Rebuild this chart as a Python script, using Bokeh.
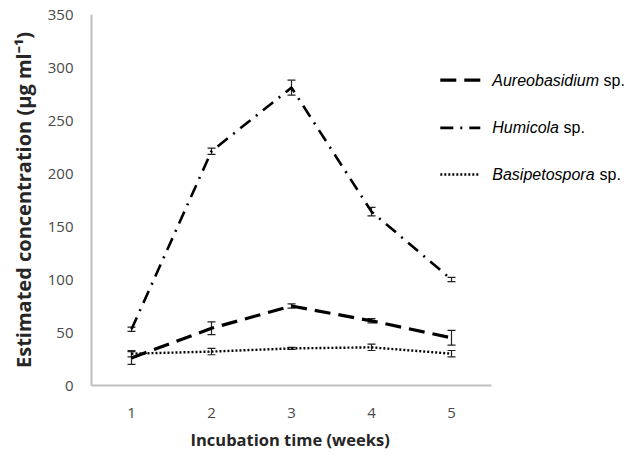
from bokeh.plotting import figure
from bokeh.models import ColumnDataSource, Whisker, TeeHead, Range1d, FixedTicker, Label, Title
from bokeh.embed import file_html
from bokeh.resources import INLINE

weeks = [1, 2, 3, 4, 5]
aureo = [26, 54, 75, 61, 45]
aureo_err = [6, 6, 2, 2, 7]
humicola = [53, 221, 281, 164, 100]
humicola_err = [2, 3, 7, 4, 2]
basip = [30, 32, 35, 36, 30]
basip_err = [3, 3, 1, 3, 3]
y_ticks = [0, 50, 100, 150, 200, 250, 300, 350]
series_names = ["Aureobasidium", "Humicola", "Basipetospora"]

p = figure(width=636, height=463, output_backend="svg", toolbar_location=None,
           x_range=Range1d(0.5, 7.3125), y_range=Range1d(0, 350),
           min_border_left=91, min_border_right=0, min_border_top=14, min_border_bottom=78)
p.outline_line_color = None
p.grid.visible = False
p.background_fill_color = "white"

styles = [
    dict(line_dash="16 8", line_width=3.2),
    dict(line_dash="13 7 2 7", line_width=2.6),
    dict(line_dash="2 2", line_width=2.4),
]
for vals, errs, st in zip([aureo, humicola, basip], [aureo_err, humicola_err, basip_err], styles):
    src = ColumnDataSource(dict(x=weeks, y=vals,
                                lo=[v - e for v, e in zip(vals, errs)],
                                hi=[v + e for v, e in zip(vals, errs)]))
    p.line("x", "y", source=src, line_color="black", **st)
    p.add_layout(Whisker(base="x", lower="lo", upper="hi", source=src,
                         line_color="#222222", line_width=1.2,
                         upper_head=TeeHead(size=8, line_color="#222222", line_width=1.2),
                         lower_head=TeeHead(size=8, line_color="#222222", line_width=1.2)))

# axes
p.xaxis.ticker = FixedTicker(ticks=weeks)
p.yaxis.ticker = FixedTicker(ticks=y_ticks)
p.xaxis.bounds = (0.5, 5.5)
for ax in (p.xaxis, p.yaxis):
    ax.axis_line_color = "#bfbfbf"
    ax.axis_line_width = 2
    ax.major_tick_line_color = None
    ax.minor_tick_line_color = None
    ax.major_label_text_font = "Open Sans"
    ax.major_label_text_font_size = "15px"
    ax.major_label_text_color = "#4a4a4a"
p.yaxis.major_label_standoff = 12
p.xaxis.major_label_standoff = 16
p.yaxis.axis_label = "Estimated concentration (µg ml\u207b\u00b9)"
p.yaxis.axis_label_text_font = "Open Sans"
p.yaxis.axis_label_text_font_style = "bold"
p.yaxis.axis_label_text_font_size = "20px"
p.yaxis.axis_label_text_color = "#262626"
p.yaxis.axis_label_standoff = 8

# x-axis title, positioned under the bounded axis
xt = Title(text="Incubation time (weeks)", align="left", offset=99, text_font="Open Sans",
           text_font_style="bold", text_font_size="16.5px", text_color="#262626", standoff=11)
p.add_layout(xt, "below")

# legend (manual, for italic genus names)
leg_y = [288, 243, 199]
sp_x = [6.90, 6.40, 6.85]
for name, yy, st, sx in zip(series_names, leg_y, styles, sp_x):
    p.line([4.86, 5.36], [yy, yy], line_color="black", **st)
    p.add_layout(Label(x=5.51, y=yy, text=name, text_font="Liberation Sans",
                       text_font_style="italic", text_font_size="16px",
                       text_baseline="middle", text_color="black"))
    p.add_layout(Label(x=sx, y=yy, text="sp.", text_font="Liberation Sans",
                       text_font_size="16px", text_baseline="middle", text_color="black"))

open("out.html", "w").write(file_html(p, INLINE))
